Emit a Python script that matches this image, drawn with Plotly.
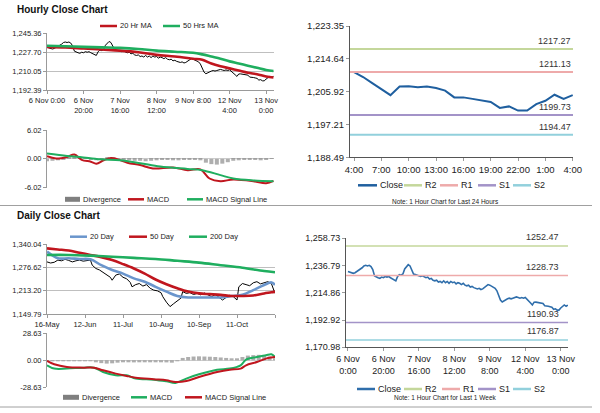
import plotly.graph_objects as go

FONT = "Liberation Sans, Arial, sans-serif"
W, H = 600, 413

# ---- hourly data: 6 Nov 0:00 .. 13 Nov 4:00 (trading hours) ----
hourly_close = [
    1232.0, 1231.5, 1231.0, 1230.5, 1231.0, 1232.0, 1232.5, 1233.5, 1235.0,
    1236.5, 1237.0, 1236.5, 1237.0, 1236.0, 1233.5,
    1228.5, 1227.5, 1227.0, 1226.5, 1227.5, 1227.0, 1228.0, 1227.5, 1228.0, 1227.0, 1226.0, 1225.5, 1224.5,
    1228.0, 1229.5, 1229.0, 1230.0,
    1234.0, 1236.0, 1237.5, 1236.5, 1233.0,
    1230.0, 1229.5, 1229.0, 1228.5, 1228.0, 1228.5, 1227.5, 1227.0, 1227.5, 1226.0, 1226.5, 1225.0, 1224.5,
    1225.0, 1223.5, 1224.0, 1223.0, 1224.5, 1223.0, 1224.0, 1222.5, 1224.0, 1223.0, 1223.5, 1222.0, 1223.0, 1222.5, 1221.5,
    1222.5, 1221.0, 1220.5, 1221.0, 1219.5, 1220.0, 1219.0, 1218.5, 1218.0, 1218.5, 1217.5, 1218.0, 1219.0, 1220.5,
    1221.5, 1221.0, 1220.0, 1219.5, 1218.5, 1216.5,
    1212.5, 1209.0, 1207.5, 1208.5, 1209.5, 1210.0, 1210.5, 1210.0, 1210.5, 1211.0, 1211.5, 1211.0, 1210.5, 1211.0, 1210.5,
    1211.1, 1209.8, 1208.2, 1206.6, 1205.0, 1207.3, 1207.35, 1207.1, 1207.3, 1206.9, 1206.2, 1204.4, 1204.4,
    1204.0, 1203.6, 1203.2, 1201.6, 1202.0, 1200.9, 1200.9, 1202.6, 1203.5, 1205.1, 1204.0, 1205.0,
]
hour_ticks = [0, 20, 40, 60, 80, 100, 120]
hour_labels = ["6 Nov 0:00", "6 Nov<br>20:00", "7 Nov<br>16:00", "8 Nov<br>12:00",
               "9 Nov 8:00", "12 Nov<br>4:00", "13 Nov<br>0:00"]
week_labels = ["6 Nov<br>0:00", "6 Nov<br>20:00", "7 Nov<br>16:00", "8 Nov<br>12:00",
               "9 Nov<br>8:00", "12 Nov<br>4:00", "13 Nov<br>0:00"]

ma_h_x = [0, 10, 20, 30, 40, 50, 60, 70, 80, 85, 90, 95, 100, 105, 110, 115, 120, 124]
ma20_h = [1232.5, 1232.0, 1231.0, 1230.0, 1229.0, 1227.5, 1225.0, 1223.5, 1221.5,
          1220.5, 1217.0, 1214.5, 1212.5, 1210.5, 1208.5, 1207.0, 1205.0, 1204.0]
ma50_h = [1233.5, 1233.0, 1232.5, 1232.0, 1231.5, 1230.5, 1229.0, 1228.0, 1227.0,
          1225.5, 1223.5, 1221.5, 1219.0, 1217.0, 1215.0, 1213.0, 1211.0, 1210.0]

macd_h_x = [0, 5, 11, 15, 19, 24, 27, 31, 35, 38, 44, 51, 58, 69, 77, 84, 89, 95, 102, 113, 120, 124]
macd_h = [0.56, 0.08, 0.4, 0.9, -0.2, -0.6, -1.0, -0.3, 0.2, 0.0, -0.8, -1.3,
          -2.0, -1.8, -2.36, -2.2, -4.1, -4.66, -4.3, -4.66, -5.1, -4.6]
signal_h_x = [0, 11, 18, 29, 40, 51, 62, 77, 85, 95, 102, 113, 124]
signal_h = [1.1, 0.6, 0.4, -0.1, -0.3, -0.9, -1.6, -2.1, -2.36, -3.4, -4.1, -4.5, -4.66]
div_h_x = list(range(0, 125, 3))
div_h = [-0.5, -0.4, -0.3, -0.1, 0.3, 0.4, 0.3, 0.1, -0.2, -0.3, -0.1, 0.3, 0.3, 0.1,
         -0.2, -0.3, -0.4, -0.4, -0.5, -0.4, -0.3, -0.2, -0.2, -0.3, -0.3, -0.2, -0.1,
         -0.1, -0.3, -0.8, -1.1, -1.2, -1.0, -0.7, -0.4, -0.3, -0.2, -0.2, -0.2, -0.3,
         -0.1, 0.1]

# ---- last 24 hours ----
day_labels = ["4:00", "7:00", "10:00", "13:00", "16:00", "19:00", "22:00", "1:00", "4:00"]
level_names = ["R2", "R1", "S1", "S2"]
level_colors = ["#c4d79b", "#eeaaaa", "#a393c8", "#92d0dc"]
day_levels = [1217.27, 1211.13, 1199.73, 1194.47]
week_levels = [1252.47, 1228.73, 1190.93, 1176.87]

# ---- daily data: 16 May .. 12 Nov ----
daily_ticks = [0, 21, 42, 63, 84, 105, 126]
daily_labels = ["16-May", "12-Jun", "11-Jul", "10-Aug", "10-Sep", "11-Oct", ""]
close_d_x = [0, 2, 4, 6, 8, 10, 12, 14, 16, 18, 20, 22, 24, 25, 27, 29, 31, 33, 35, 36,
             38, 40, 42, 44, 46, 47, 49, 51, 53, 55, 57, 59, 61, 63, 64, 66, 68, 70, 72,
             74, 75, 77, 79, 81, 83, 85, 87, 89, 91, 93, 95, 97, 99, 101, 103, 105, 106,
             108, 110, 112, 114, 116, 118, 120, 122, 124, 126]
close_d = [1292, 1289, 1291, 1297, 1295, 1299, 1296, 1292, 1295, 1297, 1294, 1296, 1297,
           1283, 1274, 1270, 1263, 1258, 1250, 1242, 1256, 1259, 1250, 1246, 1236, 1224,
           1230, 1233, 1226, 1230, 1220, 1215, 1213, 1208, 1197, 1182, 1170, 1178, 1186,
           1193, 1211, 1206, 1208, 1203, 1206, 1202, 1207, 1201, 1197, 1203, 1196, 1188,
           1195, 1201, 1197, 1188, 1224, 1233, 1230, 1227, 1235, 1238, 1232, 1236, 1238,
           1233, 1206]
ma_d_x = [0, 6, 12, 18, 24, 30, 36, 42, 48, 54, 60, 66, 72, 78, 84, 90, 96, 102, 108,
          114, 120, 124, 126]
ma20_d = [1320, 1302, 1302, 1300, 1299, 1283, 1270, 1260, 1247, 1238, 1224, 1211, 1199,
          1195, 1195, 1195, 1195, 1199, 1202, 1215, 1229, 1236, 1229]
ma50_d = [1329, 1326, 1323, 1317, 1311, 1305, 1297, 1286, 1274, 1260, 1244, 1231, 1220,
          1211, 1206, 1204, 1202, 1199, 1199, 1200.5, 1206, 1209, 1211]
ma200_d_x = [0, 12, 24, 36, 48, 60, 72, 84, 96, 108, 120, 126]
ma200_d = [1311, 1311, 1309, 1306, 1303, 1300, 1295, 1290, 1283, 1276, 1267, 1263.7]

macd_d_x = [0, 4, 11, 20, 26, 31, 38, 44, 49, 59, 66, 71, 77, 84, 94, 101, 107, 110,
            116, 121, 124, 126]
macd_d = [-5.3, -8.8, -8.8, -7.8, -7.8, -12.4, -15.9, -15.9, -19.4, -20.5, -22.3, -24.0,
          -19.4, -14.8, -9.9, -8.8, -5.3, 0.7, 3.5, 5.3, 6.4, 3.5]
signal_d = [-0.7, -4.2, -7.1, -7.8, -7.8, -10.6, -14.1, -16.6, -18.4, -20.1, -21.2, -23.0,
            -22.0, -17.7, -12.4, -9.9, -8.8, -5.3, -1.8, 1.8, 3.0, 3.5]
div_d_x = list(range(0, 127, 3))
div_d = [-1.0, -0.8, -0.5, -0.3, -0.3, -0.2, -0.2, -0.3, -0.5, -2.0, -3.0, -3.5, -3.2,
         -2.5, -2.0, -1.8, -2.2, -2.0, -1.5, -1.2, -1.5, -1.8, -2.2, -2.5, -1.0, 2.5,
         3.5, 4.0, 4.2, 4.0, 3.8, 3.5, 3.0, 2.5, 2.0, 1.5, 3.5, 5.0, 5.5, 5.8, 5.5, 4.0, 1.5]

RED = "#c0161e"
GREEN = "#1fae5f"
BLUE = "#6a95cc"
GRAY = "#8c8c8c"
CLOSE_BLUE = "#1f5f9f"
WEEK_BLUE = "#2f6eab"


def xd(a, b):
    return [a / W, b / W]


def yd(top, bottom):
    return [1 - bottom / H, 1 - top / H]


def fmt(vals):
    return [f"{v:,.2f}" for v in vals]


fig = go.Figure()


def line(x, y, color, width, ax, shape="linear"):
    fig.add_trace(go.Scatter(x=x, y=y, mode="lines", line=dict(color=color, width=width, shape=shape),
                             showlegend=False, hoverinfo="skip", xaxis="x" + ax, yaxis="y" + ax))


def legend_row(items, ypx, size):
    # items: (x0, x1, label, colour, is_bar) in pixels
    for x0, x1, label, col, is_bar in items:
        y = 1 - ypx / H
        if is_bar:
            fig.add_shape(type="rect", xref="paper", yref="paper", x0=x0 / W, x1=x1 / W,
                          y0=y - 2.5 / H, y1=y + 2.5 / H, line_width=0, fillcolor="#7f7f7f")
        else:
            fig.add_shape(type="line", xref="paper", yref="paper", x0=x0 / W, x1=x1 / W,
                          y0=y, y1=y, line=dict(color=col, width=2.5))
        fig.add_annotation(x=(x1 + 0.5) / W, y=y, xref="paper", yref="paper", text=label,
                           showarrow=False, xanchor="left", yanchor="middle",
                           font=dict(size=size, color="#222222"))


# hourly price
line(list(range(len(hourly_close))), hourly_close, "black", 1, "")
line(ma_h_x, ma20_h, RED, 2.6, "", "spline")
line(ma_h_x, ma50_h, GREEN, 2.6, "", "spline")

# hourly macd
fig.add_trace(go.Bar(x=div_h_x, y=div_h, width=2.2, marker_color=GRAY, marker_line_width=0,
                     opacity=0.7, showlegend=False, hoverinfo="skip", xaxis="x2", yaxis="y2"))
line(macd_h_x, macd_h, RED, 2, "2", "spline")
line(signal_h_x, signal_h, GREEN, 2, "2", "spline")

# last 24 hours
last_day = hourly_close[100:]
day_range = [-0.44, 24.03]
line(list(range(len(last_day))), last_day, CLOSE_BLUE, 2, "3")
for col, lev in zip(level_colors, day_levels):
    line(day_range, [lev, lev], col, 2, "3")
    fig.add_annotation(x=day_range[1], y=lev, xref="x3", yref="y3", text=f"{lev:.2f}",
                       showarrow=False, xanchor="right", yanchor="bottom", yshift=1,
                       font=dict(size=9, color="#333333"))

# daily price
line(close_d_x, close_d, "black", 1, "4")
line(ma_d_x, ma20_d, BLUE, 2.6, "4", "spline")
line(ma_d_x, ma50_d, RED, 2.6, "4", "spline")
line(ma200_d_x, ma200_d, GREEN, 2.6, "4", "spline")

# daily macd
fig.add_trace(go.Bar(x=div_d_x, y=div_d, width=2.2, marker_color=GRAY, marker_line_width=0,
                     opacity=0.7, showlegend=False, hoverinfo="skip", xaxis="x5", yaxis="y5"))
line(macd_d_x, macd_d, GREEN, 2, "5", "spline")
line(macd_d_x, signal_d, RED, 2, "5", "spline")

# last week
week_range = [-1.1, 124.1]
line(list(range(len(hourly_close))), hourly_close, WEEK_BLUE, 1.6, "6")
for col, lev in zip(level_colors, week_levels):
    line(week_range, [lev, lev], col, 1.5, "6")
    fig.add_annotation(x=week_range[1] - 4, y=lev, xref="x6", yref="y6", text=f"{lev:.2f}",
                       showarrow=False, xanchor="right", yanchor="bottom", yshift=2,
                       font=dict(size=9, color="#333333"))

# legends
legend_row([(100, 117, "20 Hr MA", RED, False), (163, 180, "50 Hrs MA", GREEN, False)], 26, 7.5)
legend_row([(65, 80, "Divergence", GRAY, True), (128, 144, "MACD", RED, False),
            (187, 203, "MACD Signal Line", GREEN, False)], 199.3, 7.5)
legend_row([(358, 377, "Close", CLOSE_BLUE, False)] +
           [(x0, x0 + 18, n, c, False) for x0, n, c in zip([404, 440, 478, 513], level_names, level_colors)],
           185.3, 9)
legend_row([(70, 87, "20 Day", BLUE, False), (129, 147, "50 Day", RED, False),
            (189, 207, "200 Day", GREEN, False)], 236.7, 7.5)
legend_row([(63, 79, "Divergence", GRAY, True), (131, 147, "MACD", GREEN, False),
            (185, 202, "MACD Signal Line", RED, False)], 397.3, 7.5)
legend_row([(357, 375, "Close", WEEK_BLUE, False)] +
           [(x0, x0 + 18, n, c, False) for x0, n, c in zip([404, 442, 478, 513], level_names, level_colors)],
           389, 9)

axis_common = dict(showline=True, linecolor="#9a9a9a", linewidth=1, ticks="outside",
                   ticklen=3, tickcolor="#9a9a9a", tickfont=dict(size=7.5, color="#222222"),
                   zeroline=False, fixedrange=True, automargin=False)

hour_y = [1192.39, 1210.05, 1227.70, 1245.36]
hmacd_y = [-6.02, 0.00, 6.02]
day_y = [1188.49, 1197.21, 1205.92, 1214.64, 1223.35]
daily_y = [1149.79, 1213.20, 1276.62, 1340.04]
dmacd_y = [-28.63, 0.00, 28.63]
week_y = [1170.98, 1192.92, 1214.86, 1236.79, 1258.73]

fig.update_layout(
    width=W, height=H, margin=dict(l=0, r=0, t=0, b=0),
    paper_bgcolor="white", plot_bgcolor="white",
    font=dict(family=FONT, color="#222222"),
    barmode="overlay", showlegend=False, hovermode=False,
    xaxis=dict(axis_common, domain=xd(47, 274), range=[0, 124.3], tickvals=hour_ticks,
               ticktext=hour_labels, showgrid=False, anchor="y"),
    yaxis=dict(axis_common, domain=yd(33, 90), range=[hour_y[0], hour_y[-1]], tickvals=hour_y,
               ticktext=fmt(hour_y), showgrid=True, gridcolor="#bfbfbf", anchor="x"),
    xaxis2=dict(axis_common, domain=xd(47, 274), range=[0, 124.3], showticklabels=False,
                ticks="", showline=False, showgrid=False, anchor="y2"),
    yaxis2=dict(axis_common, domain=yd(130, 187.7), range=[-6.02, 6.02], tickvals=hmacd_y,
                ticktext=fmt(hmacd_y), showgrid=True, gridcolor="#cfcfcf", anchor="x2"),
    xaxis3=dict(axis_common, domain=xd(350, 573), range=day_range, tickvals=list(range(0, 25, 3)),
                ticktext=day_labels, showgrid=False, tickfont=dict(size=9.5), anchor="y3",
                linecolor="#555555"),
    yaxis3=dict(axis_common, domain=yd(26, 157.3), range=[day_y[0], day_y[-1]], tickvals=day_y,
                ticktext=fmt(day_y), showgrid=False, tickfont=dict(size=9.5), anchor="x3",
                linecolor="#555555"),
    xaxis4=dict(axis_common, domain=xd(47, 275), range=[0, 126], tickvals=daily_ticks,
                ticktext=daily_labels, showgrid=False, anchor="y4"),
    yaxis4=dict(axis_common, domain=yd(244.3, 314), range=[daily_y[0], daily_y[-1]],
                tickvals=daily_y, ticktext=fmt(daily_y), showgrid=True, gridcolor="#bfbfbf",
                anchor="x4"),
    xaxis5=dict(axis_common, domain=xd(47, 275), range=[0, 126], showticklabels=False,
                ticks="", showline=False, showgrid=False, anchor="y5"),
    yaxis5=dict(axis_common, domain=yd(333.3, 387.3), range=[-28.63, 28.63], tickvals=dmacd_y,
                ticktext=fmt(dmacd_y), showgrid=True, gridcolor="#cfcfcf", anchor="x5"),
    xaxis6=dict(axis_common, domain=xd(346, 568), range=week_range, tickvals=hour_ticks,
                ticktext=week_labels, showgrid=False, tickfont=dict(size=9), anchor="y6",
                linecolor="#555555"),
    yaxis6=dict(axis_common, domain=yd(238.3, 347.3), range=[week_y[0], week_y[-1]],
                tickvals=week_y, ticktext=fmt(week_y), showgrid=False, tickfont=dict(size=9),
                anchor="x6", linecolor="#555555"),
)

fig.add_annotation(x=15 / W, y=1 - 9 / H, xref="paper", yref="paper", text="<b>Hourly Close Chart</b>",
                   showarrow=False, xanchor="left", yanchor="middle", font=dict(size=10, color="#111111"))
fig.add_annotation(x=15 / W, y=1 - 215 / H, xref="paper", yref="paper", text="<b>Daily Close Chart</b>",
                   showarrow=False, xanchor="left", yanchor="middle", font=dict(size=10, color="#111111"))
fig.add_annotation(x=445 / W, y=1 - 201.7 / H, xref="paper", yref="paper",
                   text="Note: 1 Hour Chart for Last 24 Hours", showarrow=False,
                   xanchor="center", yanchor="middle", font=dict(size=6.5))
fig.add_annotation(x=445 / W, y=1 - 397.7 / H, xref="paper", yref="paper",
                   text="Note: 1 Hour Chart for Last 1 Week", showarrow=False,
                   xanchor="center", yanchor="middle", font=dict(size=6.5))

for yy in (205.5, 407):
    fig.add_shape(type="line", xref="paper", yref="paper", x0=0, x1=592 / W,
                  y0=1 - yy / H, y1=1 - yy / H, line=dict(color="#a0a0a0", width=1))

# the page body has a default 8px margin; remove it so the figure sits at the window corner
fig.write_html("out.html", config={"displayModeBar": False},
               post_script="document.body.style.margin = '0px';")
